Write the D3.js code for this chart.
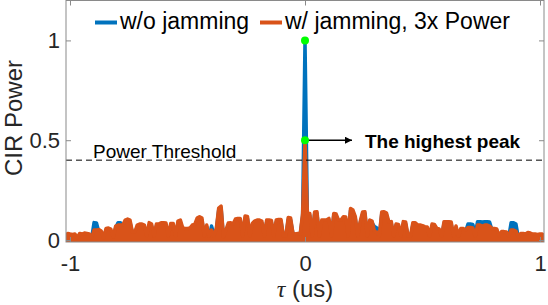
<!DOCTYPE html>
<html><head><meta charset="utf-8">
<script src="https://cdn.jsdelivr.net/npm/d3@7"></script>
<style>body{margin:0;background:#fff;} text{font-family:"Liberation Sans",Arial,Helvetica,sans-serif;}</style>
</head><body>
<script>
// sampling grid of delay tau (us)
const tauStep = 0.0102;
const tauIndex = d3.range(-100, 101);
const seriesNames = ["w/o jamming", "w/ jamming, 3x Power"];
const seriesColors = ["#0072BD", "#D95319"];
const xTicks = [-1, 0, 1];
const yTicks = [0, 0.5, 1];
const threshold = 0.4;
const peakMarks = [1.0, 0.5];

const powerNoJam = [
 0.015,0.025,0.02,0.02,0.025,0.008,0.028,0.025,0.03,0.025,
 0.025,0.01,0.087,0.085,0.04,0.035,0.01,0.05,0.05,0.045,
 0.01,0.06,0.087,0.087,0.065,0.09,0.095,0.09,0.035,0.03,
 0.065,0.07,0.07,0.065,0.015,0.075,0.07,0.015,0.07,0.07,
 0.075,0.075,0.075,0.015,0.07,0.072,0.015,0.085,0.09,0.05,
 0.05,0.05,0.05,0.065,0.068,0.1,0.105,0.1,0.015,0.065,
 0.015,0.07,0.03,0.05,0.15,0.16,0.01,0.04,0.075,0.078,
 0.07,0.095,0.1,0.098,0.015,0.11,0.108,0.015,0.075,0.085,
 0.09,0.09,0.085,0.015,0.09,0.09,0.088,0.015,0.09,0.093,
 0.093,0.015,0.015,0.103,0.1,0.03,0.028,0.03,0.028,0.12,
 1.0,
 0.12,0.123,0.015,0.13,0.132,0.015,0.09,0.09,0.09,0.098,
 0.015,0.123,0.12,0.09,0.09,0.107,0.105,0.015,0.148,0.14,
 0.107,0.015,0.082,0.13,0.132,0.015,0.09,0.085,0.067,0.06,
 0.015,0.13,0.132,0.125,0.08,0.082,0.015,0.075,0.07,0.015,
 0.082,0.08,0.015,0.015,0.077,0.077,0.065,0.065,0.062,0.057,
 0.055,0.015,0.07,0.068,0.05,0.048,0.015,0.082,0.082,0.082,
 0.08,0.015,0.06,0.015,0.05,0.05,0.042,0.08,0.08,0.078,
 0.03,0.092,0.092,0.09,0.092,0.092,0.09,0.05,0.05,0.048,
 0.015,0.035,0.035,0.032,0.015,0.087,0.087,0.08,0.012,0.028,
 0.028,0.025,0.03,0.03,0.025,0.025,0.022,0.025,0.025,0.015
];
const powerJam = [
 0.02,0.033,0.03,0.028,0.03,0.01,0.033,0.03,0.035,0.033,
 0.03,0.01,0.05,0.05,0.052,0.045,0.01,0.058,0.06,0.055,
 0.015,0.07,0.075,0.075,0.075,0.1,0.105,0.1,0.04,0.04,
 0.075,0.08,0.08,0.075,0.02,0.087,0.08,0.02,0.08,0.08,
 0.087,0.087,0.085,0.02,0.083,0.083,0.02,0.095,0.1,0.06,
 0.058,0.058,0.06,0.075,0.078,0.11,0.117,0.11,0.02,0.075,
 0.02,0.05,0.02,0.058,0.16,0.17,0.015,0.05,0.085,0.087,
 0.08,0.105,0.108,0.108,0.02,0.12,0.118,0.02,0.083,0.095,
 0.1,0.1,0.095,0.02,0.1,0.1,0.098,0.02,0.1,0.103,
 0.103,0.02,0.02,0.113,0.11,0.033,0.03,0.033,0.03,0.133,
 0.5,
 0.13,0.133,0.02,0.14,0.142,0.02,0.1,0.1,0.1,0.108,
 0.02,0.133,0.13,0.1,0.1,0.117,0.115,0.02,0.158,0.15,
 0.117,0.02,0.092,0.14,0.142,0.02,0.1,0.095,0.042,0.04,
 0.02,0.14,0.142,0.135,0.09,0.092,0.02,0.08,0.078,0.02,
 0.092,0.09,0.02,0.02,0.087,0.087,0.075,0.075,0.072,0.067,
 0.065,0.02,0.08,0.078,0.058,0.055,0.02,0.092,0.092,0.092,
 0.09,0.02,0.07,0.02,0.058,0.058,0.05,0.063,0.063,0.06,
 0.02,0.075,0.075,0.07,0.075,0.075,0.07,0.058,0.058,0.055,
 0.02,0.042,0.042,0.04,0.02,0.05,0.05,0.045,0.015,0.033,
 0.033,0.03,0.038,0.035,0.03,0.03,0.028,0.03,0.03,0.02
];

const W = 548, H = 305;
const svg = d3.select("body").append("svg").attr("width", W).attr("height", H);
const x = d3.scaleLinear().domain([-1.017, 1.017]).range([66, 544]);
const y = d3.scaleLinear().domain([-0.01, 1.2]).range([242, 0.5]);
const tau = tauIndex.map(i => i * tauStep);

svg.append("defs").append("clipPath").attr("id", "clip")
  .append("rect").attr("x", 66).attr("y", 0.5).attr("width", 478).attr("height", 241.5);

const plot = svg.append("g").attr("clip-path", "url(#clip)");
[powerNoJam, powerJam].forEach((vals, k) => {
  const pts = vals.map((v, i) => [tau[i], v]);
  plot.append("path").datum(pts)
    .attr("fill", seriesColors[k])
    .attr("d", d3.area().x(d => x(d[0])).y0(y.range()[0]).y1(d => y(d[1])));
  plot.append("path").datum(pts)
    .attr("fill", "none").attr("stroke", seriesColors[k])
    .attr("stroke-width", 3.5).attr("stroke-linejoin", "round")
    .attr("d", d3.line().x(d => x(d[0])).y(d => y(d[1])));
});

// threshold
svg.append("line").attr("x1", 66).attr("x2", 544)
  .attr("y1", y(threshold)).attr("y2", y(threshold))
  .attr("stroke", "#000").attr("stroke-width", 1).attr("stroke-dasharray", "6,4");
svg.append("text").attr("x", 93).attr("y", y(threshold) - 2.5)
  .attr("font-size", 19).attr("fill", "#000").text("Power Threshold");

// axes box
const axCol = "#8a8a8a";
svg.append("rect").attr("x", 66).attr("y", 0.5).attr("width", 478).attr("height", 241.5)
  .attr("fill", "none").attr("stroke", axCol).attr("stroke-width", 1);

function styleAxis(g) {
  g.select(".domain").remove();
  g.selectAll(".tick line").attr("stroke", axCol);
  g.selectAll(".tick text").attr("fill", "#262626").attr("font-size", 22)
    .attr("font-family", "Liberation Sans, Arial, sans-serif");
}
svg.append("g").attr("transform", "translate(66,0)")
  .call(d3.axisLeft(y).tickValues(yTicks).tickSize(-5).tickPadding(6).tickFormat(d => String(d)))
  .call(styleAxis);
svg.append("g").attr("transform", "translate(544,0)")
  .call(d3.axisRight(y).tickValues(yTicks).tickSize(-5).tickFormat(""))
  .call(styleAxis);
svg.append("g").attr("transform", "translate(0,242)")
  .call(d3.axisBottom(x).tickValues(xTicks).tickSize(-5).tickPadding(13).tickFormat(d => String(d)))
  .call(styleAxis);
svg.append("g").attr("transform", "translate(0,0.5)")
  .call(d3.axisTop(x).tickValues(xTicks).tickSize(-5).tickFormat(""))
  .call(styleAxis);

// axis labels
const xl = svg.append("text").attr("x", 305).attr("y", 297).attr("text-anchor", "middle")
  .attr("font-size", 24).attr("fill", "#262626");
xl.append("tspan").attr("font-style", "italic").attr("font-family", "Liberation Serif, serif").text("τ");
xl.append("tspan").text(" (us)");
svg.append("text").attr("transform", "translate(22,118) rotate(-90)").attr("text-anchor", "middle")
  .attr("font-size", 24).attr("fill", "#262626").text("CIR Power");

// arrow annotation
svg.append("defs").append("marker").attr("id", "arr").attr("viewBox", "0 0 10 10")
  .attr("refX", 10).attr("refY", 5).attr("markerWidth", 7).attr("markerHeight", 7)
  .attr("markerUnits", "userSpaceOnUse").attr("orient", "auto")
  .append("path").attr("d", "M0,0L10,5L0,10z").attr("fill", "#000");
svg.append("line").attr("x1", x(0)).attr("x2", x(0.2)).attr("y1", y(0.5)).attr("y2", y(0.5))
  .attr("stroke", "#000").attr("stroke-width", 1.5).attr("marker-end", "url(#arr)");
svg.append("text").attr("x", x(0.255)).attr("y", y(0.5) + 8).attr("font-size", 19)
  .attr("font-weight", "bold").attr("fill", "#000").text("The highest peak");

// green markers
svg.selectAll("circle.pk").data(peakMarks).enter().append("circle")
  .attr("cx", x(0)).attr("cy", d => y(d)).attr("r", 4).attr("fill", "#00ff00");

// legend
const legX = [95, 260];
seriesNames.forEach((name, k) => {
  svg.append("line").attr("x1", legX[k]).attr("x2", legX[k] + 22).attr("y1", 22.5).attr("y2", 22.5)
    .attr("stroke", seriesColors[k]).attr("stroke-width", 4);
  svg.append("text").attr("x", legX[k] + 25).attr("y", 28.5).attr("font-size", 23)
    .attr("fill", "#000").text(name);
});
</script>
</body></html>
